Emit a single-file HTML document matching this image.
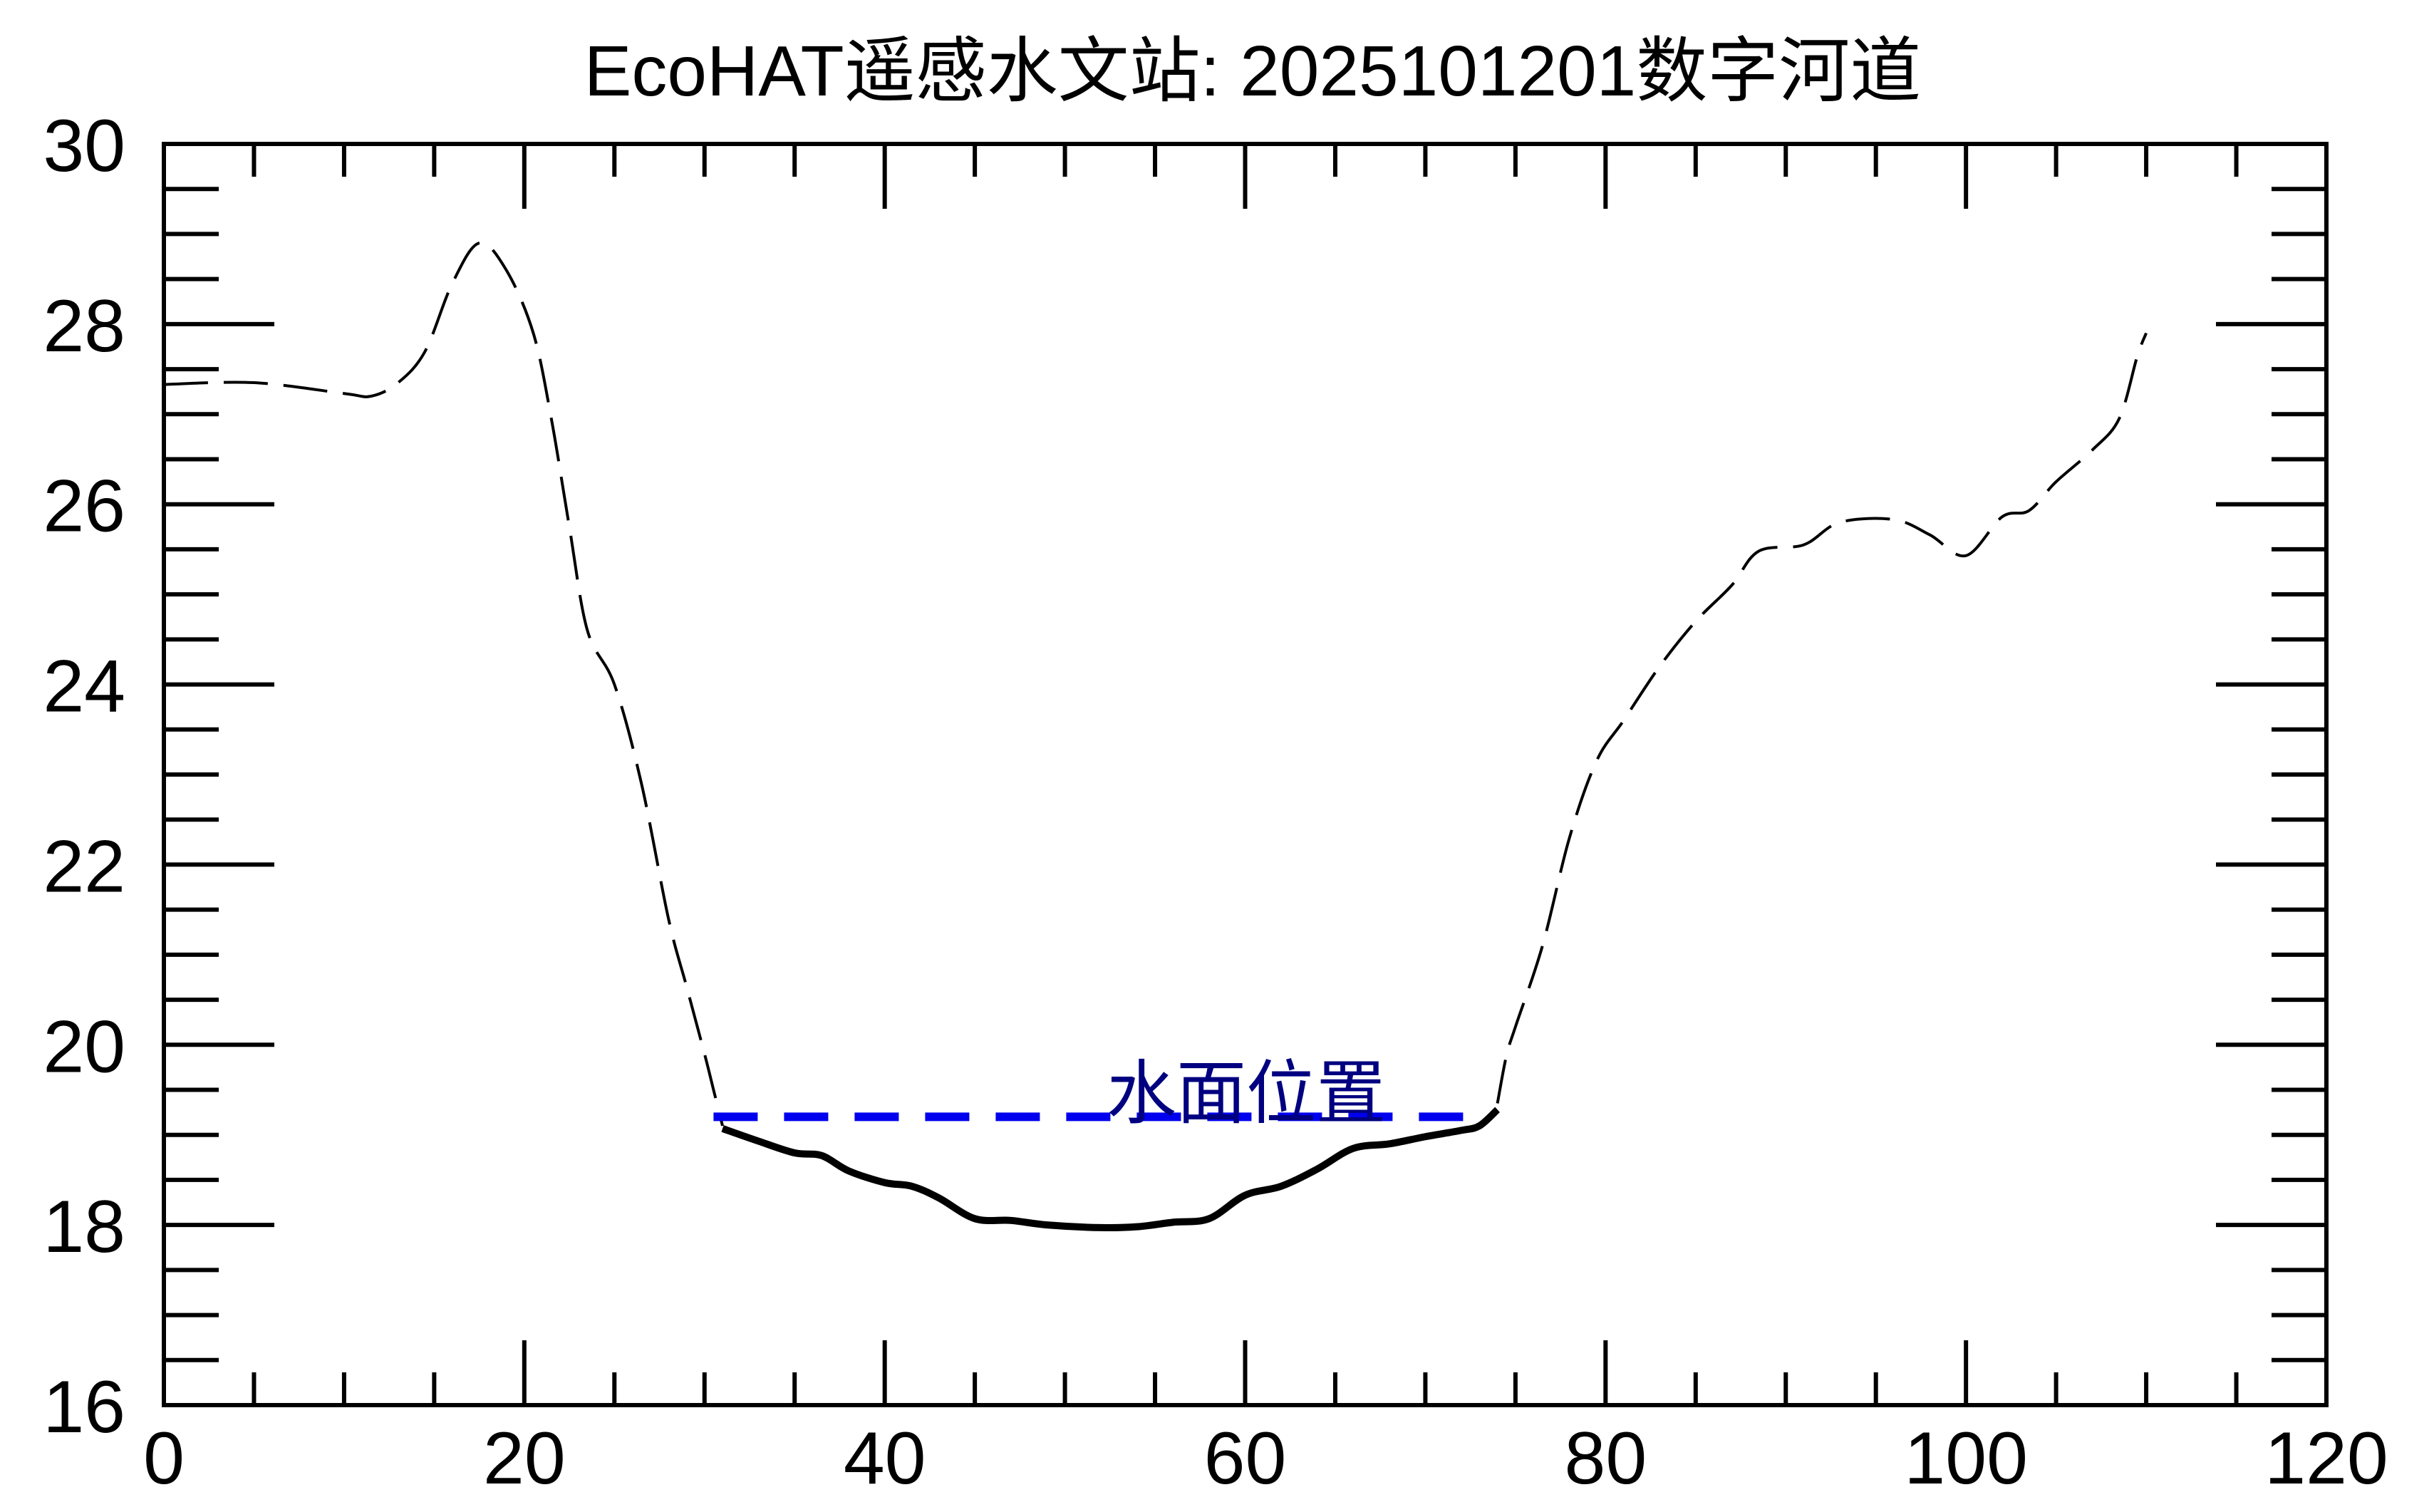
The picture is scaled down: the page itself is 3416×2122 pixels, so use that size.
<!DOCTYPE html>
<html><head><meta charset="utf-8"><style>
html,body{margin:0;padding:0;background:#fff}
svg{display:block}
text{font-family:"Liberation Sans","Noto Sans CJK SC",sans-serif}
</style></head><body>
<svg id="chart" width="3416" height="2122" viewBox="0 0 3416 2122" xmlns="http://www.w3.org/2000/svg">
<text x="1758" y="134" font-size="100" text-anchor="middle">EcoHAT遥感水文站: 2025101201数字河道</text>
<g id="ticks"></g>
<g id="labels"></g>
<g id="series"></g>
<rect x="230" y="202" width="3035" height="1770" fill="none" stroke="#000" stroke-width="6"/>
</svg>
<script>
const bankX = [0,5,10,11.5,13,14.5,16,17.5,19,20.5,21.5,22.5,23.5,25,26.5,28,29,30,30.5,31];
const bankY = [27.33,27.35,27.23,27.2,27.35,27.7,28.45,28.9,28.6,27.9,26.95,25.75,24.6,24.0,22.9,21.4,20.65,19.9,19.5,19.1];
const bedX = [31,33,35,36.5,38,40,41.5,43,45,47,49,52,54,56,58,60,62,64,66,68,70,72,73,74];
const bedY = [19.07,18.93,18.8,18.77,18.6,18.47,18.43,18.3,18.07,18.05,18.0,17.97,17.98,18.03,18.07,18.33,18.43,18.62,18.85,18.9,18.98,19.05,19.1,19.28];
const bank2X = [74,74.5,75,76.5,78,79.5,81,83,85,87,88.5,91,93,96,98,100,102,103.5,105,107,108.5,109.5,110];
const bank2Y = [19.35,19.88,20.2,21.1,22.3,23.15,23.6,24.2,24.7,25.1,25.48,25.55,25.8,25.83,25.66,25.43,25.86,25.93,26.25,26.6,26.95,27.64,27.9];
const waterLevel = 19.2;
const waterStart = 30.5, waterEnd = 73.5;
const xTickLabels = [0,20,40,60,80,100,120];
const yTickLabels = [16,18,20,22,24,26,28,30];

const X0=230,X1=3265,Y0=1972,Y1=202;
const xs = v => X0 + (v-0)/(120-0)*(X1-X0);
const ys = v => Y0 - (v-16)/(30-16)*(Y0-Y1);
const NS='http://www.w3.org/2000/svg';
function mk(tag, attrs, parent){const e=document.createElementNS(NS,tag);for(const k in attrs)e.setAttribute(k,attrs[k]);parent.appendChild(e);return e;}
const ticks=document.getElementById('ticks'), labels=document.getElementById('labels'), series=document.getElementById('series');

for(let v=0; v<=120; v+=5){
  const major = v%20===0, L = major?91:46, x=xs(v);
  const b=mk('line',{x1:x,y1:Y0,x2:x,y2:Y0-L,stroke:'#000','stroke-width':6},ticks);
  
  
  const t=mk('line',{x1:x,y1:Y1,x2:x,y2:Y1+L,stroke:'#000','stroke-width':6},ticks);
  
  
}
for(let v=16; v<=30; v+=0.5){
  const major = v%2===0, L = major?155:77, y=ys(v);
  const l=mk('line',{x1:X0,y1:y,x2:X0+L,y2:y,stroke:'#000','stroke-width':6},ticks);
  
  
  const r=mk('line',{x1:X1,y1:y,x2:X1-L,y2:y,stroke:'#000','stroke-width':6},ticks);
  
  
}
xTickLabels.forEach(v=>{
  const t=mk('text',{x:xs(v),y:2082,'font-size':104,'text-anchor':'middle'},labels);
  t.textContent=v;
  
  
});
yTickLabels.forEach(v=>{
  const t=mk('text',{x:176,y:ys(v)+38,'font-size':104,'text-anchor':'end'},labels);
  t.textContent=v;
  
  
});

function smooth(X,Y){
  const p=X.map((x,i)=>[xs(x),ys(Y[i])]);
  let d='M'+p[0][0]+','+p[0][1];
  for(let i=0;i<p.length-1;i++){
    const a=p[Math.max(0,i-1)],b=p[i],c=p[i+1],e=p[Math.min(p.length-1,i+2)];
    const c1=[b[0]+(c[0]-a[0])/6,b[1]+(c[1]-a[1])/6], c2=[c[0]-(e[0]-b[0])/6,c[1]-(e[1]-b[1])/6];
    d+=' C'+c1+' '+c2+' '+c;
  }
  return d;
}
const l1=mk('path',{d:smooth(bankX,bankY),fill:'none',stroke:'#000','stroke-width':4,'stroke-dasharray':'62 22'},series);


const l3=mk('path',{d:smooth(bank2X,bank2Y),fill:'none',stroke:'#000','stroke-width':4,'stroke-dasharray':'62 22'},series);


const l2=mk('path',{d:smooth(bedX,bedY),fill:'none',stroke:'#000','stroke-width':10,'stroke-linejoin':'round'},series);


const w=mk('line',{x1:xs(waterStart),y1:ys(waterLevel),x2:xs(waterEnd),y2:ys(waterLevel),stroke:'#0000ee','stroke-width':12,'stroke-dasharray':'62 37'},series);


const wl=mk('text',{x:1553,y:1568,'font-size':98,fill:'#000080'},series);
wl.textContent='水面位置';


</script>
</body></html>
